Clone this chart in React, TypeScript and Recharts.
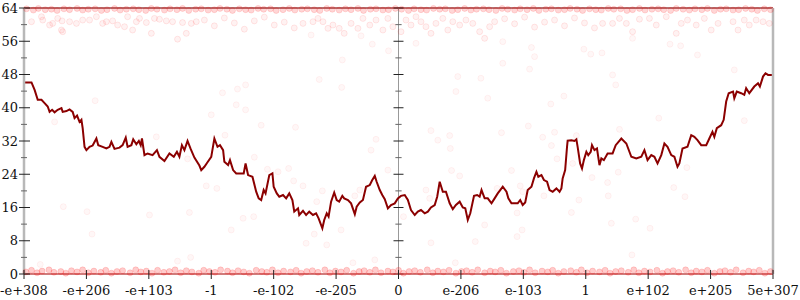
import { ComposedChart, Line, Scatter, XAxis, YAxis, ReferenceLine } from 'recharts';

// x axis is an ordinal over the float range, -600..600
const xTicks = [-600, -500, -400, -300, -200, -100, 0, 100, 200, 300, 400, 500, 600];
const xTickLabels = ['-e+308', '-e+206', '-e+103', '-1', '-e-102', '-e-205', '0', 'e-206', 'e-103', '1', 'e+102', 'e+205', '5e+307'];
const yTicks = [0, 4, 8, 12, 16, 20, 24, 28, 32, 36, 40, 44, 48, 52, 56, 60, 64];

// the dark red walk
const walk: [number, number][] = [
  [-600, 46.1], [-588, 46.1], [-583, 44.3], [-578, 41.9], [-572, 41.9], [-567, 41.1], [-562, 40.3], [-559, 39.0],
  [-555, 39.5], [-551, 38.9], [-546, 39.5], [-540, 39.9], [-538, 39.0], [-532, 39.2], [-527, 39.6], [-522, 39.0],
  [-519, 37.5], [-515, 38.1], [-511, 36.6], [-508, 37.1], [-506, 35.1], [-503, 30.6], [-500, 29.8], [-495, 30.6],
  [-490, 30.9], [-484, 32.6], [-481, 31.0], [-474, 30.6], [-468, 30.2], [-463, 30.6], [-460, 31.8], [-455, 30.1],
  [-447, 30.4], [-442, 31.0], [-437, 32.8], [-434, 30.6], [-428, 31.0], [-425, 32.4], [-420, 31.2], [-416, 32.0],
  [-413, 31.0], [-411, 32.6], [-407, 28.6], [-402, 29.0], [-394, 28.6], [-387, 29.8], [-383, 28.2], [-375, 27.2],
  [-367, 29.0], [-360, 28.2], [-355, 29.4], [-351, 28.2], [-347, 31.0], [-343, 29.8], [-338, 32.0], [-333, 30.1],
  [-327, 28.0], [-319, 26.1], [-316, 25.0], [-311, 25.8], [-306, 26.9], [-300, 28.2], [-295, 32.6], [-290, 30.6],
  [-286, 31.0], [-281, 29.8], [-279, 27.0], [-273, 26.2], [-270, 27.4], [-265, 25.0], [-260, 24.2], [-252, 24.2],
  [-248, 24.2], [-245, 26.6], [-241, 23.8], [-234, 23.4], [-228, 19.8], [-224, 18.2], [-220, 17.8], [-216, 20.2],
  [-213, 19.4], [-207, 23.8], [-202, 24.2], [-200, 21.0], [-195, 19.4], [-191, 18.6], [-185, 19.0], [-180, 18.2],
  [-175, 19.4], [-170, 17.8], [-167, 15.0], [-161, 15.8], [-159, 14.2], [-153, 15.2], [-148, 14.2], [-143, 15.0],
  [-137, 14.2], [-132, 14.6], [-128, 13.4], [-122, 11.0], [-119, 13.0], [-115, 14.6], [-112, 13.8], [-108, 17.4],
  [-103, 19.6], [-99, 17.8], [-95, 17.4], [-90, 18.8], [-87, 18.2], [-81, 17.8], [-76, 17.0], [-70, 14.4],
  [-67, 16.2], [-62, 17.2], [-57, 17.8], [-52, 21.0], [-46, 21.4], [-42, 22.6], [-38, 23.6], [-35, 22.2],
  [-30, 20.2], [-26, 19.0], [-22, 18.0], [-17, 15.8], [-12, 16.6], [-6, 17.0], [-1, 18.2], [4, 18.8],
  [10, 19.0], [15, 17.8], [20, 15.4], [26, 14.2], [31, 15.0], [36, 15.4], [42, 14.6], [47, 15.0],
  [52, 16.0], [58, 16.6], [62, 18.6], [66, 22.2], [71, 19.8], [76, 19.8], [82, 17.0], [87, 15.6],
  [92, 16.6], [98, 17.4], [103, 16.0], [107, 15.8], [111, 13.0], [115, 14.6], [121, 18.8], [126, 19.0],
  [130, 18.6], [133, 20.2], [138, 18.2], [143, 18.2], [149, 17.0], [154, 18.2], [159, 19.4], [163, 20.2],
  [167, 21.0], [173, 19.8], [176, 18.2], [181, 17.0], [186, 17.0], [191, 17.0], [195, 17.8], [199, 16.6],
  [203, 17.2], [207, 20.2], [213, 21.0], [217, 23.0], [221, 24.6], [224, 23.4], [229, 23.8], [233, 22.6],
  [238, 22.2], [242, 20.2], [247, 19.8], [253, 20.6], [258, 19.8], [261, 20.6], [263, 23.0], [267, 25.0],
  [270, 30.6], [271, 32.1], [277, 32.2], [282, 32.0], [285, 32.4], [287, 30.6], [291, 26.6], [294, 25.4],
  [297, 27.4], [301, 29.4], [304, 28.6], [308, 29.4], [310, 31.0], [314, 29.8], [318, 30.2], [322, 26.2],
  [325, 27.8], [329, 27.4], [335, 29.0], [343, 29.0], [348, 31.0], [357, 32.6], [365, 31.4], [373, 28.2],
  [381, 27.8], [389, 28.2], [394, 29.8], [399, 27.4], [405, 28.6], [410, 28.2], [415, 26.6], [421, 28.6],
  [426, 31.4], [431, 30.6], [437, 28.6], [442, 28.2], [447, 25.8], [450, 26.6], [455, 30.2], [463, 30.6],
  [469, 33.4], [474, 33.0], [479, 32.2], [485, 31.0], [493, 31.0], [498, 32.6], [503, 34.2], [506, 33.0],
  [510, 35.1], [517, 35.8], [521, 37.1], [525, 41.5], [529, 43.5], [536, 43.9], [538, 42.3], [542, 43.9],
  [549, 43.5], [554, 43.1], [557, 44.7], [562, 43.5], [570, 45.1], [576, 45.9], [579, 45.1], [584, 47.5],
  [588, 48.3], [592, 47.9], [600, 47.9],
];

// samples piled on the top edge
const topEdge: [number, number][] = [
  [-596, 63.8], [-585, 63.5], [-577, 63.9], [-566, 63.6], [-556, 63.7], [-547, 63.4], [-536, 63.8], [-527, 63.6],
  [-515, 63.9], [-506, 63.5], [-497, 63.7], [-486, 63.8], [-476, 63.4], [-467, 63.6], [-455, 63.9], [-446, 63.5],
  [-436, 63.7], [-425, 63.8], [-416, 63.6], [-405, 63.4], [-396, 63.9], [-387, 63.7], [-375, 63.5], [-366, 63.8],
  [-355, 63.6], [-346, 63.9], [-336, 63.4], [-325, 63.7], [-316, 63.8], [-305, 63.5], [-295, 63.6], [-286, 63.9],
  [-275, 63.7], [-266, 63.4], [-255, 63.8], [-245, 63.6], [-236, 63.5], [-225, 63.9], [-216, 63.7], [-205, 63.8],
  [-196, 63.4], [-185, 63.6], [-175, 63.9], [-166, 63.5], [-155, 63.7], [-146, 63.8], [-135, 63.6], [-126, 63.4],
  [-115, 63.9], [-106, 63.7], [-95, 63.5], [-85, 63.8], [-76, 63.6], [-65, 63.9], [-56, 63.4], [-45, 63.7],
  [-36, 63.8], [-25, 63.5], [-16, 63.6], [-5, 63.9], [5, 63.7], [16, 63.4], [25, 63.8], [36, 63.6],
  [45, 63.5], [56, 63.9], [66, 63.7], [75, 63.8], [86, 63.4], [95, 63.6], [106, 63.9], [116, 63.5],
  [125, 63.7], [136, 63.8], [145, 63.6], [156, 63.4], [166, 63.9], [175, 63.7], [186, 63.5], [195, 63.8],
  [206, 63.6], [216, 63.9], [225, 63.4], [236, 63.7], [245, 63.8], [256, 63.5], [266, 63.6], [275, 63.9],
  [286, 63.7], [295, 63.4], [306, 63.8], [316, 63.6], [325, 63.5], [336, 63.9], [345, 63.7], [356, 63.8],
  [366, 63.4], [375, 63.6], [386, 63.9], [395, 63.5], [406, 63.7], [416, 63.8], [425, 63.6], [436, 63.4],
  [445, 63.9], [456, 63.7], [466, 63.5], [475, 63.8], [486, 63.6], [495, 63.9], [506, 63.4], [516, 63.7],
  [525, 63.8], [536, 63.5], [545, 63.6], [556, 63.9], [566, 63.7], [575, 63.4], [586, 63.8], [596, 63.6],
];

// the cloud just under the top edge
const topBand: [number, number][] = [
  [-588, 60.7], [-572, 61.9], [-570, 61.1], [-559, 59.9], [-554, 60.3], [-546, 61.5], [-539, 60.9], [-540, 58.7],
  [-538, 58.3], [-527, 60.7], [-516, 60.3], [-506, 61.1], [-495, 61.1], [-484, 61.9], [-474, 60.3], [-468, 60.7],
  [-458, 60.9], [-450, 59.9], [-439, 59.5], [-434, 61.9], [-426, 58.7], [-420, 60.7], [-415, 61.5], [-404, 60.5],
  [-396, 57.9], [-391, 61.5], [-383, 61.3], [-372, 60.9], [-362, 60.7], [-354, 56.5], [-346, 60.5], [-340, 57.9],
  [-332, 60.3], [-324, 60.7], [-311, 61.1], [-295, 59.7], [-279, 61.6], [-263, 60.4], [-247, 58.9], [-231, 60.9],
  [-215, 61.8], [-199, 59.9], [-183, 60.6], [-167, 59.2], [-153, 60.3], [-137, 60.7], [-129, 61.5], [-121, 60.7],
  [-113, 59.1], [-105, 59.9], [-95, 59.1], [-87, 57.9], [-76, 60.3], [-65, 59.1], [-57, 61.5], [-46, 59.9],
  [-36, 61.1], [-25, 58.7], [-17, 61.5], [-9, 59.5], [4, 58.3], [12, 61.1], [20, 59.9], [28, 61.9],
  [36, 60.7], [44, 59.5], [52, 57.9], [60, 60.3], [71, 61.5], [79, 58.7], [87, 60.7], [98, 59.9],
  [108, 61.1], [119, 60.3], [130, 58.3], [138, 56.7], [146, 59.5], [154, 60.7], [170, 61.4], [186, 60.2],
  [202, 61.8], [218, 59.4], [234, 60.6], [250, 61.1], [266, 59.7], [282, 61.6], [298, 60.4], [314, 59.2],
  [327, 60.3], [343, 60.3], [354, 61.5], [365, 60.3], [375, 58.3], [386, 61.3], [402, 61.5], [413, 59.9],
  [429, 61.9], [445, 57.9], [453, 60.3], [463, 61.1], [477, 59.9], [490, 61.5], [501, 58.7], [512, 60.3],
  [536, 60.7], [544, 58.7], [554, 61.1], [562, 59.9], [573, 61.1], [584, 60.7], [594, 60.3],
];

// samples piled on the bottom edge
const bottomEdge: [number, number][] = [
  [-597, 0.5], [-588, 0.9], [-579, 0.3], [-571, 0.7], [-560, 1.0], [-552, 0.4], [-541, 0.6], [-533, 0.2],
  [-524, 0.8], [-515, 0.5], [-506, 1.0], [-497, 0.3], [-488, 0.7], [-477, 0.4], [-469, 0.9], [-460, 0.2],
  [-451, 0.6], [-442, 0.8], [-430, 0.3], [-421, 1.0], [-413, 0.5], [-404, 0.7], [-395, 0.2], [-386, 0.9],
  [-376, 0.4], [-367, 0.6], [-358, 1.0], [-349, 0.3], [-340, 0.8], [-331, 0.5], [-320, 0.2], [-312, 0.9],
  [-303, 0.6], [-294, 0.4], [-285, 1.0], [-274, 0.7], [-266, 0.3], [-257, 0.8], [-248, 0.5], [-239, 0.2],
  [-228, 0.9], [-219, 0.6], [-211, 0.4], [-202, 1.0], [-193, 0.3], [-184, 0.7], [-173, 0.5], [-164, 0.9],
  [-156, 0.2], [-147, 0.6], [-138, 0.8], [-129, 0.4], [-118, 1.0], [-110, 0.3], [-101, 0.7], [-92, 0.5],
  [-83, 0.9], [-72, 0.2], [-63, 0.6], [-55, 0.8], [-46, 0.4], [-37, 1.0], [-28, 0.3], [-17, 0.7],
  [-9, 0.5], [0, 0.9], [8, 0.2], [17, 0.6], [26, 0.8], [35, 0.4], [46, 1.0], [55, 0.3],
  [63, 0.7], [72, 0.5], [81, 0.9], [92, 0.2], [101, 0.6], [109, 0.8], [118, 0.4], [127, 1.0],
  [138, 0.3], [147, 0.7], [155, 0.5], [164, 0.9], [173, 0.2], [184, 0.6], [193, 0.8], [201, 0.4],
  [210, 1.0], [219, 0.3], [230, 0.7], [239, 0.5], [247, 0.9], [256, 0.2], [265, 0.6], [276, 0.8],
  [285, 0.4], [293, 1.0], [302, 0.3], [311, 0.7], [322, 0.5], [331, 0.9], [339, 0.2], [348, 0.6],
  [357, 0.8], [368, 0.4], [377, 1.0], [385, 0.3], [394, 0.7], [403, 0.5], [414, 0.9], [423, 0.2],
  [431, 0.6], [440, 0.8], [449, 0.4], [460, 1.0], [469, 0.3], [477, 0.7], [486, 0.5], [495, 0.9],
  [506, 0.2], [515, 0.6], [523, 0.8], [532, 0.4], [541, 1.0], [552, 0.3], [561, 0.7], [569, 0.5],
  [578, 0.9], [587, 0.2], [596, 0.6],
];

// faint strays across the middle
const strays: [number, number][] = [
  [-486, 41.7], [-551, 36.6], [-300, 38.3], [-282, 43.6], [-258, 44.5], [-245, 45.5], [-260, 40.7], [-245, 39.5],
  [-220, 35.8], [-278, 33.4], [-231, 28.1], [-338, 27.7], [-537, 16.2], [-499, 15.0], [-491, 9.6], [-399, 14.2],
  [-335, 14.8], [-574, 2.3], [-354, 3.1], [-333, 4.0], [-92, 10.6], [-148, 7.4], [-115, 7.0], [-73, 2.7],
  [-38, 3.4], [52, 7.5], [123, 7.8], [138, 11.8], [91, 2.7], [341, 12.2], [380, 13.2], [403, 11.0],
  [374, 4.6], [167, 55.9], [213, 54.5], [218, 52.3], [167, 50.7], [210, 49.3], [132, 47.1], [143, 42.3],
  [244, 40.9], [265, 42.8], [343, 47.9], [348, 45.5], [297, 54.1], [308, 52.9], [326, 53.2], [435, 55.3],
  [479, 52.7], [538, 49.1], [554, 36.9], [417, 37.5], [208, 35.6], [165, 34.0], [250, 34.1], [231, 32.9],
  [245, 30.9], [285, 33.3], [354, 34.8], [181, 24.9], [254, 27.7], [310, 23.2], [352, 24.5], [335, 22.0],
  [195, 21.2], [233, 18.8], [289, 17.8], [336, 18.8], [441, 20.8], [459, 18.6], [462, 25.6], [277, 14.8],
  [198, 10.6], [190, 9.0], [-90, 51.5], [-127, 46.8], [-91, 44.9], [-16, 53.7], [-42, 55.3], [28, 55.5],
  [95, 47.5], [92, 43.9], [-140, 57.5], [-60, 57.3], [452, 54.9], [375, 56.7], [-388, 33.0], [-165, 35.3],
  [-308, 21.2], [-291, 20.6], [-210, 25.2], [-193, 24.6], [-176, 25.4], [-168, 22.4], [-153, 21.2], [-122, 20.0],
  [-131, 17.4], [-249, 13.4], [-232, 13.8], [-268, 10.6], [-135, 9.6], [-70, 18.8], [-62, 20.2], [-44, 29.8],
  [-17, 25.0], [-36, 32.4], [52, 34.5], [63, 32.2], [82, 33.3], [83, 30.2], [85, 24.9], [98, 23.6],
  [199, 19.8], [44, 20.2], [50, 18.2], [158, 20.6], [8, 13.8], [190, 14.7], [279, 26.6],
];

const pts = (rows: [number, number][]) => rows.map(([x, y]) => ({ x, y }));

const FONT = '"DejaVu Serif", serif';

const ring = (fillOp: number, strokeOp: number) => (p: any) => (
  <circle cx={p.cx} cy={p.cy} r={3} fill="#ff0000" fillOpacity={fillOp} stroke="#ff0000" strokeOpacity={strokeOp} />
);

function XTick({ x, y, payload }: any) {
  const label = xTickLabels[xTicks.indexOf(payload.value)];
  return (
    <g>
      <line x1={x} x2={x} y1={y - 4} y2={y + 5} stroke="#222" />
      <text x={x} y={y + 21} textAnchor="middle" fontFamily={FONT} fontSize={13} fill="#111">
        {label}
      </text>
    </g>
  );
}

function YTick({ x, y, payload, showLabel }: any) {
  const major = payload.value % 8 === 0;
  return (
    <g>
      <line x1={x - (major ? 5 : 3)} x2={x + (major ? 6 : 3)} y1={y} y2={y} stroke={major ? '#222' : '#666'} />
      {showLabel && major && (
        <text x={x - 6} y={y} dy="0.35em" textAnchor="end" fontFamily={FONT} fontSize={13} fill="#111">
          {payload.value}
        </text>
      )}
    </g>
  );
}

export default function App() {
  return (
    <div style={{ position: 'absolute', left: 0, top: 0, width: 800, height: 300, background: '#fff' }}>
      <ComposedChart width={800} height={300} margin={{ top: 8, right: 0, bottom: 0, left: 0 }}>
        <XAxis
          dataKey="x"
          type="number"
          domain={[-600, 600]}
          ticks={xTicks}
          interval={0}
          height={26}
          tickSize={0}
          tickMargin={0}
          tickLine={false}
          axisLine={{ stroke: '#c05050', strokeWidth: 1.5 }}
          tick={<XTick />}
        />
        <YAxis
          type="number"
          domain={[0, 64]}
          ticks={yTicks}
          interval={0}
          width={24}
          tickSize={0}
          tickMargin={0}
          tickLine={false}
          axisLine={{ stroke: '#b8b8b8', strokeWidth: 2.5 }}
          tick={<YTick showLabel />}
        />
        <YAxis
          yAxisId="right"
          orientation="right"
          type="number"
          domain={[0, 64]}
          ticks={yTicks}
          interval={0}
          width={27}
          tickSize={0}
          tickMargin={0}
          tickLine={false}
          axisLine={{ stroke: '#b8b8b8', strokeWidth: 2.5 }}
          tick={<YTick />}
        />
        <ReferenceLine y={64} stroke="#9a4040" strokeWidth={1.5} ifOverflow="visible" />
        <ReferenceLine x={0} stroke="#999" strokeWidth={1} />
        {yTicks.map((v) => (
          <ReferenceLine
            key={v}
            ifOverflow="visible"
            segment={[
              { x: v % 8 === 0 ? -8 : -5, y: v },
              { x: v % 8 === 0 ? 8 : 5, y: v },
            ]}
            stroke={v % 8 === 0 ? '#222' : '#666'}
          />
        ))}
        <Scatter data={pts(strays)} dataKey="y" shape={ring(0.03, 0.05)} isAnimationActive={false} />
        <Scatter data={pts(topBand)} dataKey="y" shape={ring(0.05, 0.09)} isAnimationActive={false} />
        <Scatter data={pts(topEdge)} dataKey="y" shape={ring(0.16, 0.12)} isAnimationActive={false} />
        <Scatter data={pts(bottomEdge)} dataKey="y" shape={ring(0.2, 0.14)} isAnimationActive={false} />
        <Line
          data={pts(walk)}
          dataKey="y"
          type="linear"
          stroke="#8b0000"
          strokeWidth={2}
          dot={false}
          isAnimationActive={false}
        />
      </ComposedChart>
    </div>
  );
}
